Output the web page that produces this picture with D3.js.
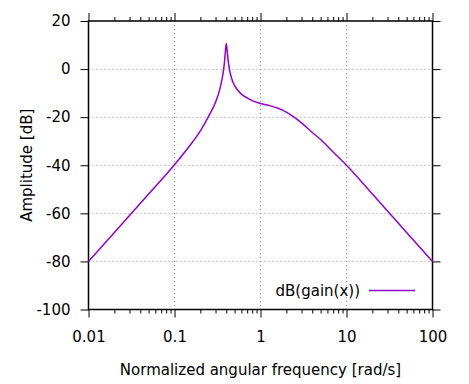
<!DOCTYPE html>
<html>
<head>
<meta charset="utf-8">
<script src="https://cdn.jsdelivr.net/npm/d3@7"></script>
<style>
  html, body { margin: 0; padding: 0; background: #fff; }
  svg { display: block; }
  text { font-family: "DejaVu Sans", sans-serif; fill: #000; }
</style>
</head>
<body>
<svg id="chart" width="469" height="384"></svg>
<script>
// ---- data ----
const freq   = [0.01, 0.02, 0.05, 0.1, 0.15, 0.2, 0.25, 0.3, 0.33, 0.36, 0.38, 0.39, 0.4, 0.41, 0.42, 0.44, 0.47, 0.5, 0.6, 0.7, 0.8, 1, 1.3, 1.6, 2, 2.5, 3, 4, 5, 7, 10, 20, 50, 100];
const gainDb = [-80, -68, -52.0, -39.8, -31.9, -25.7, -19.6, -13.8, -9.5, -3.6, 2.4, 6.9, 10.6, 7.6, 3.8, -1.0, -4.7, -6.9, -10.4, -12.0, -13.1, -14.3, -15.3, -16.3, -17.9, -20.2, -22.4, -26.4, -29.3, -34.5, -40.0, -52.0, -68.0, -80];
const xMajorTicks = [0.01, 0.1, 1, 10, 100];
const xTickLabels = ["0.01", "0.1", "1", "10", "100"];
const yTicks      = [20, 0, -20, -40, -60, -80, -100];
const yTickLabels = ["20", "0", "-20", "-40", "-60", "-80", "-100"];
const seriesName  = "dB(gain(x))";
const xTitle = "Normalized angular frequency [rad/s]";
const yTitle = "Amplitude [dB]";

// ---- layout ----
const L = 88.5, R = 432.5, T = 21, B = 309.5;
const svg = d3.select("#chart");
const x = d3.scaleLog().domain([0.01, 100]).range([L, R]);
const y = d3.scaleLinear().domain([-100, 20]).range([B, T]);

const xMinorTicks = [];
for (let d = 0; d < xMajorTicks.length - 1; d++) {
  for (let k = 2; k <= 9; k++) xMinorTicks.push(xMajorTicks[d] * k);
}

// grid
const grid = svg.append("g").attr("stroke", "#a0a0a0").attr("stroke-width", 1)
  .attr("stroke-dasharray", "1,3");
grid.selectAll("line.gx").data(xMajorTicks.slice(1, -1)).join("line")
  .attr("x1", d => Math.round(x(d)) + 0.5).attr("x2", d => Math.round(x(d)) + 0.5)
  .attr("y1", T).attr("y2", B);
grid.selectAll("line.gy").data(yTicks.slice(1, -1)).join("line")
  .attr("y1", d => Math.round(y(d)) + 0.5).attr("y2", d => Math.round(y(d)) + 0.5)
  .attr("x1", L).attr("x2", R);

const fmtX = d => xTickLabels[xMajorTicks.indexOf(d)];
const fmtY = d => yTickLabels[yTicks.indexOf(d)];

function styleAxis(g) {
  g.select(".domain").remove();
  g.selectAll("line").attr("stroke", "#000").attr("stroke-width", 1);
  g.selectAll("text").attr("font-size", 15).attr("font-family", "DejaVu Sans").attr("fill", "#000");
}

// bottom axis
svg.append("g").attr("transform", `translate(0,${B})`)
  .call(d3.axisBottom(x).tickValues(xMajorTicks).tickFormat(fmtX).tickSize(8).tickPadding(14))
  .call(styleAxis);
svg.append("g").attr("transform", `translate(0,${B})`)
  .call(d3.axisBottom(x).tickValues(xMinorTicks).tickFormat("").tickSize(4))
  .call(styleAxis);
// top axis
svg.append("g").attr("transform", `translate(0,${T})`)
  .call(d3.axisTop(x).tickValues(xMajorTicks).tickFormat("").tickSize(8))
  .call(styleAxis);
svg.append("g").attr("transform", `translate(0,${T})`)
  .call(d3.axisTop(x).tickValues(xMinorTicks).tickFormat("").tickSize(4))
  .call(styleAxis);
// left axis
svg.append("g").attr("transform", `translate(${L},0)`)
  .call(d3.axisLeft(y).tickValues(yTicks).tickFormat(fmtY).tickSize(8).tickPadding(10))
  .call(styleAxis);
// right axis
svg.append("g").attr("transform", `translate(${R},0)`)
  .call(d3.axisRight(y).tickValues(yTicks).tickFormat("").tickSize(8))
  .call(styleAxis);

// border
svg.append("rect").attr("x", L).attr("y", T).attr("width", R - L).attr("height", B - T)
  .attr("fill", "none").attr("stroke", "#000").attr("stroke-width", 1.5);

// curve
const line = d3.line().x((d, i) => x(freq[i])).y(d => y(d)).curve(d3.curveMonotoneX);
svg.append("path").datum(gainDb)
  .attr("d", line).attr("fill", "none")
  .attr("stroke", "#9400d3").attr("stroke-width", 1.5);

// legend
svg.append("text").attr("x", 360).attr("y", 296).attr("text-anchor", "end")
  .attr("font-size", 15).text(seriesName);
svg.append("line").attr("x1", 369).attr("x2", 415).attr("y1", 290.5).attr("y2", 290.5)
  .attr("stroke", "#9400d3").attr("stroke-width", 1.5);

// titles
svg.append("text").attr("x", (L + R) / 2).attr("y", 375).attr("text-anchor", "middle")
  .attr("font-size", 15).text(xTitle);
svg.append("text").attr("transform", `translate(32,${(T + B) / 2}) rotate(-90)`)
  .attr("text-anchor", "middle").attr("font-size", 15).text(yTitle);
</script>
</body>
</html>
